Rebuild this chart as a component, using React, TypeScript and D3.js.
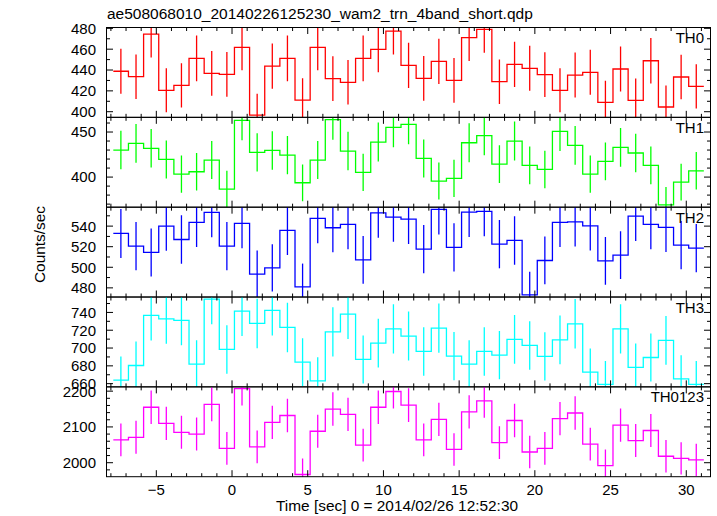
import React from "react";
import * as d3 from "d3";

const time = [
  -7.34, -6.34, -5.34, -4.34, -3.34, -2.34, -1.34, -0.34, 0.66, 1.66,
  2.66, 3.66, 4.66, 5.66, 6.66, 7.66, 8.66, 9.66, 10.66, 11.66,
  12.66, 13.66, 14.66, 15.66, 16.66, 17.66, 18.66, 19.66, 20.66, 21.66,
  22.66, 23.66, 24.66, 25.66, 26.66, 27.66, 28.66, 29.66, 30.66,
];
const binHalfWidth = 0.5;

const th0 = [438.8, 433.6, 474.5, 420.5, 425.3, 451.2, 436.8, 435.9, 461.8, 396.8, 443.8, 451.2, 411.2, 461.8, 431.7, 428.2, 451.2, 459.9, 477.4, 444.5, 432.0, 448.3, 430.1, 471.0, 479.0, 428.8, 445.5, 441.6, 435.5, 420.5, 435.2, 437.8, 409.0, 441.0, 410.9, 448.9, 404.5, 433.3, 424.4];
const th0Err = [21.6, 21.4, 22.4, 21.1, 21.2, 21.9, 21.5, 21.5, 22.1, 20.5, 21.7, 21.9, 20.9, 22.1, 21.4, 21.3, 21.9, 22.1, 22.5, 21.7, 21.4, 21.8, 21.4, 22.4, 22.5, 21.3, 21.7, 21.6, 21.5, 21.1, 21.5, 21.6, 20.8, 21.6, 20.9, 21.8, 20.7, 21.4, 21.2];

const th1 = [430, 437.4, 431.9, 419.6, 403.3, 405.9, 418.9, 386.7, 463, 427.4, 429.6, 424.4, 393.7, 418.9, 463.7, 428.9, 405.2, 438.9, 455.2, 458.5, 420.7, 395.6, 398.5, 438.1, 445.9, 414.4, 440, 413, 408.5, 450.8, 435.2, 403.3, 417.4, 433, 426.7, 413, 369.2, 394.4, 407];
const th1Err = [21.4, 21.5, 21.4, 21.1, 20.7, 20.8, 21.1, 20.3, 22.2, 21.3, 21.4, 21.2, 20.4, 21.1, 22.2, 21.3, 20.7, 21.6, 22.0, 22.1, 21.1, 20.5, 20.6, 21.6, 21.8, 21.0, 21.6, 20.9, 20.8, 21.9, 21.5, 20.7, 21.0, 21.4, 21.3, 20.9, 19.8, 20.5, 20.8];

const th2 = [532.9, 520.5, 514.4, 540, 527, 543.6, 553.3, 520.5, 542.6, 493.3, 499.4, 535.8, 481, 547.5, 538.4, 541.6, 507.2, 552.9, 548.8, 546.8, 517.6, 556.2, 519.3, 553.6, 554.3, 522.5, 526.1, 473.2, 506.6, 543.6, 544.2, 540.3, 506.3, 511.8, 549.7, 541.6, 538.7, 521.5, 518.6];
const th2Err = [23.8, 23.5, 23.4, 23.9, 23.6, 24.0, 24.2, 23.5, 24.0, 22.9, 23.0, 23.8, 22.6, 24.1, 23.9, 24.0, 23.2, 24.2, 24.1, 24.1, 23.4, 24.3, 23.5, 24.2, 24.2, 23.5, 23.6, 22.4, 23.2, 24.0, 24.0, 23.9, 23.2, 23.3, 24.2, 24.0, 23.9, 23.5, 23.5];

const th3 = [663.9, 680.4, 736.6, 732.8, 731, 681.9, 755, 698.4, 741.5, 727.6, 742.2, 723.1, 684.2, 663.1, 718.2, 738.1, 687.2, 705.5, 721.6, 713.4, 696.2, 722.4, 690.9, 681.9, 696.2, 692, 709.7, 702.9, 690.6, 709.2, 727.2, 672.9, 659.1, 721.6, 678.2, 689.4, 708.5, 665.4, 659.1];
const th3Err = [26.5, 26.9, 28.0, 27.9, 27.8, 26.9, 28.3, 27.2, 28.0, 27.8, 28.1, 27.7, 26.9, 26.5, 27.6, 28.0, 27.0, 27.4, 27.7, 27.5, 27.2, 27.7, 27.1, 26.9, 27.2, 27.1, 27.4, 27.3, 27.1, 27.4, 27.8, 26.7, 26.4, 27.7, 26.8, 27.0, 27.4, 26.6, 26.4];

const th0123 = [2064, 2071, 2155, 2110, 2085, 2080, 2163, 2040, 2207, 2044, 2113, 2132, 1967, 2088, 2150, 2135, 2049, 2155, 2199, 2161, 2064, 2121, 2037, 2142, 2173, 2056, 2118, 2030, 2040, 2123, 2139, 2052, 1992, 2105, 2062, 2090, 2018, 2012, 2008];
const th0123Err = [45.9, 46.0, 46.9, 46.4, 46.1, 46.1, 47.0, 45.6, 47.4, 45.7, 46.4, 46.6, 44.8, 46.1, 46.8, 46.7, 45.7, 46.9, 47.4, 47.0, 45.9, 46.5, 45.6, 46.7, 47.1, 45.8, 46.5, 45.5, 45.6, 46.5, 46.7, 45.8, 45.1, 46.3, 45.9, 46.2, 45.4, 45.3, 45.3];

const xTickLabels = [-5, 0, 5, 10, 15, 20, 25, 30];

const panels = [
  { name: "TH0", values: th0, errors: th0Err, color: "#ff0000", domain: [394.6, 480.8], major: [400, 420, 440, 460, 480], minorStep: 10 },
  { name: "TH1", values: th1, errors: th1Err, color: "#00ff00", domain: [366.6, 466.3], major: [400, 450], minorStep: 10 },
  { name: "TH2", values: th2, errors: th2Err, color: "#0000ff", domain: [471.1, 558.4], major: [480, 500, 520, 540], minorStep: 10 },
  { name: "TH3", values: th3, errors: th3Err, color: "#00ffff", domain: [656.4, 757.3], major: [660, 680, 700, 720, 740], minorStep: 10 },
  { name: "TH0123", values: th0123, errors: th0123Err, color: "#ff00ff", domain: [1960.9, 2212], major: [2000, 2100, 2200], minorStep: 20 },
];

const W = 717;
const H = 516;
const left = 106.5;
const right = 710.5;
const top = 27.5;
const bottom = 476.7;
const font = "'Liberation Sans', Arial, Helvetica, sans-serif";

export default function App() {
  const x = d3.scaleLinear().domain([-8.29, 31.6]).range([left, right]);
  const ph = (bottom - top) / panels.length;
  const xMinor = d3.range(-8, 32, 1);

  return (
    <svg width={W} height={H} style={{ position: "absolute", left: 0, top: 0, background: "#fff" }} fontFamily={font}>
      <rect x={0} y={0} width={W} height={H} fill="#fff" />
      <defs>
        {panels.map((p, i) => (
          <clipPath id={`clip${i}`} key={i}>
            <rect x={left} y={top + i * ph} width={right - left} height={ph} />
          </clipPath>
        ))}
      </defs>
      <text x={107} y={19} fontSize={15.5} fill="#000">ae508068010_20140226125230_wam2_trn_4band_short.qdp</text>
      {panels.map((p, i) => {
        const y0 = top + i * ph;
        const y1 = y0 + ph;
        const y = d3.scaleLinear().domain(p.domain).range([y1, y0]);
        const pts: [number, number][] = [];
        time.forEach((t, k) => {
          pts.push([x(t - binHalfWidth), y(p.values[k])]);
          pts.push([x(t + binHalfWidth), y(p.values[k])]);
        });
        const line = d3.line()(pts) || "";
        const yMinor = d3.range(Math.ceil(p.domain[0] / p.minorStep) * p.minorStep, p.domain[1], p.minorStep);
        return (
          <g key={p.name}>
            <g clipPath={`url(#clip${i})`}>
              <path d={line} fill="none" stroke={p.color} strokeWidth={1.3} />
              {time.map((t, k) => (
                <line key={k} x1={x(t)} x2={x(t)} y1={y(p.values[k] - p.errors[k])} y2={y(p.values[k] + p.errors[k])} stroke={p.color} strokeWidth={1.3} />
              ))}
            </g>
            <rect x={left} y={y0} width={right - left} height={ph} fill="none" stroke="#000" strokeWidth={1} />
            {xMinor.map((v) => {
              const len = v % 5 === 0 ? 6.5 : 3.5;
              return (
                <g key={v}>
                  <line x1={x(v)} x2={x(v)} y1={y1} y2={y1 - len} stroke="#000" strokeWidth={1} />
                  <line x1={x(v)} x2={x(v)} y1={y0} y2={y0 + len} stroke="#000" strokeWidth={1} />
                </g>
              );
            })}
            {yMinor.map((v) => {
              const isMajor = p.major.includes(v);
              const len = isMajor ? 6.5 : 3.5;
              return (
                <g key={v}>
                  <line x1={left} x2={left + len} y1={y(v)} y2={y(v)} stroke="#000" strokeWidth={1} />
                  <line x1={right} x2={right - len} y1={y(v)} y2={y(v)} stroke="#000" strokeWidth={1} />
                </g>
              );
            })}
            {p.major.map((v) => (
              <text key={v} x={96} y={y(v)} dy="0.36em" textAnchor="end" fontSize={15} fill="#000">{v}</text>
            ))}
            <text x={704} y={y0 + 15.5} textAnchor="end" fontSize={15} fill="#000">{p.name}</text>
          </g>
        );
      })}
      {xTickLabels.map((v) => (
        <text key={v} x={x(v)} y={494.5} textAnchor="middle" fontSize={15} fill="#000">{v < 0 ? `\u2212${Math.abs(v)}` : v}</text>
      ))}
      <text x={397} y={510.5} textAnchor="middle" fontSize={15.4} fill="#000">Time [sec] 0 = 2014/02/26 12:52:30</text>
      <text transform={`translate(45,244.5) rotate(-90)`} textAnchor="middle" fontSize={15.4} fill="#000">Counts/sec</text>
    </svg>
  );
}
